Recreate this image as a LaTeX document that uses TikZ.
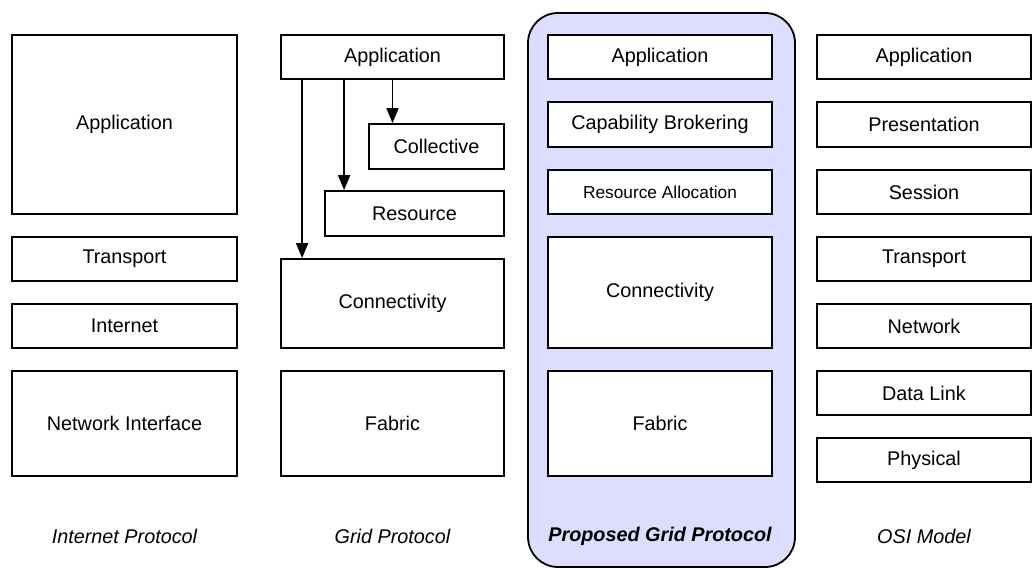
\documentclass[tikz,border=0pt]{standalone}
\usepackage{fontspec}
\setmainfont{Liberation Sans}
\usetikzlibrary{arrows.meta}
\definecolor{lav}{RGB}{221,221,255}
\begin{document}
\begin{tikzpicture}[x=1pt,y=-1pt,
  box/.style={shape=rectangle,draw=black,fill=white,line width=1.8pt,inner sep=0pt,font=\fontsize{19.8}{24}\selectfont},
  title/.style={font=\fontsize{19.8}{24}\selectfont\itshape},
  flow/.style={-{Triangle[length=15pt,width=12pt]},line width=1.8pt}]
\useasboundingbox (0,0) rectangle (1033,569);
\draw[fill=lav,line width=1.8pt,rounded corners=30pt] (528,13) rectangle (795,567);
\node[box,minimum width=225,minimum height=179] (A) at (124.5,124.5) {Application};
\node[box,minimum width=225,minimum height=44] (B) at (124.5,259) {Transport};
\node[box,minimum width=225,minimum height=44] (C) at (124.5,326) {Internet};
\node[box,minimum width=225,minimum height=105] (D) at (124.5,423.5) {Network Interface};
\node[box,minimum width=223,minimum height=44] (gapp) at (392.5,57) {Application};
\node[box,minimum width=135,minimum height=45] (gcoll) at (436.5,146.5) {Collective};
\node[box,minimum width=179,minimum height=45] (gres) at (414.5,213.5) {Resource};
\node[box,minimum width=223,minimum height=89] (gcon) at (392.5,303.5) {Connectivity};
\node[box,minimum width=223,minimum height=105] (gfab) at (392.5,423.5) {Fabric};
\node[box,minimum width=224,minimum height=44] (papp) at (660,57) {Application};
\node[box,minimum width=224,minimum height=45] (pcap) at (660,124.5) {Capability Brokering};
\node[box,minimum width=224,minimum height=44,font=\fontsize{17.3}{21}\selectfont] (pres) at (660,192) {Resource Allocation};
\node[box,minimum width=224,minimum height=111] (pcon) at (660,292.5) {Connectivity};
\node[box,minimum width=224,minimum height=105] (pfab) at (660,423.5) {Fabric};
\node[box,minimum width=214,minimum height=44] (oapp) at (924,57) {Application};
\node[box,minimum width=214,minimum height=45] (opre) at (924,124.5) {Presentation};
\node[box,minimum width=214,minimum height=44] (oses) at (924,192) {Session};
\node[box,minimum width=214,minimum height=44] (otra) at (924,259) {Transport};
\node[box,minimum width=214,minimum height=44] (onet) at (924,326) {Network};
\node[box,minimum width=214,minimum height=44] (odat) at (924,393) {Data Link};
\node[box,minimum width=214,minimum height=44] (ophy) at (924,460) {Physical};
\node[title] (L1) at (124.5,536) {Internet Protocol};
\node[title] (L2) at (392.5,536) {Grid Protocol};
\node[title,font=\fontsize{19.8}{24}\selectfont\bfseries\itshape] (L3) at (660,536) {Proposed Grid Protocol};
\node[title] (L4) at (924,536) {OSI Model};
\draw[flow] (gapp.south) -- (gapp.south |- gcoll.north);
\draw[flow] ([xshift=20pt]gres.north west |- gapp.south) -- ([xshift=20pt]gres.north west);
\draw[flow] ([xshift=22pt]gcon.north west |- gapp.south) -- ([xshift=22pt]gcon.north west);
\end{tikzpicture}
\end{document}
